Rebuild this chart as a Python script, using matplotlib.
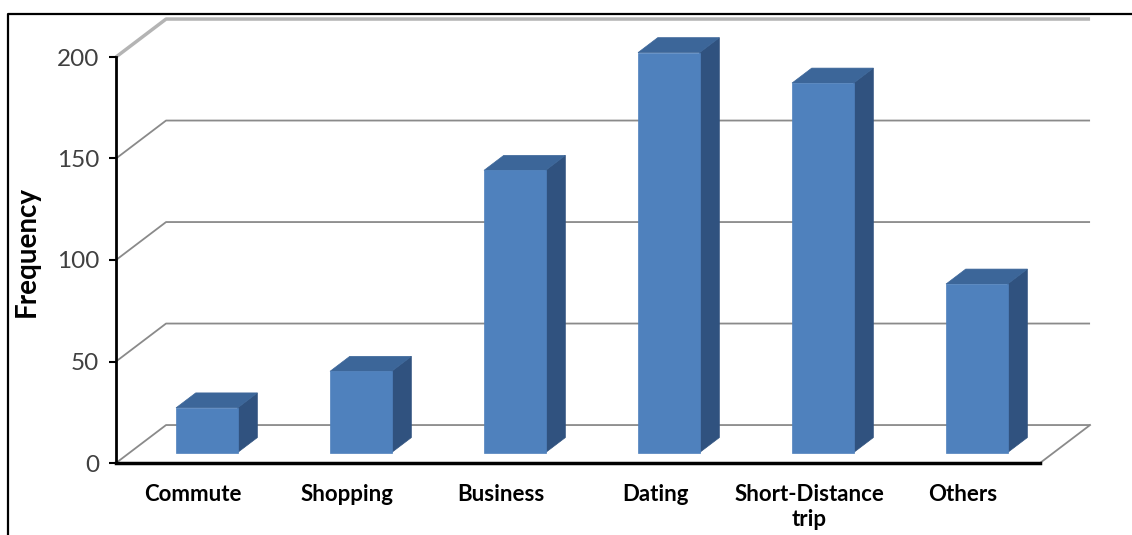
import numpy as np
import matplotlib
matplotlib.use('Agg')
import matplotlib.pyplot as plt
from matplotlib.patches import Polygon
from matplotlib.lines import Line2D

purposes = ['Commute', 'Shopping', 'Business', 'Dating', 'Short-Distance\ntrip', 'Others']
frequency = [22, 40, 139, 197, 182, 83]
yticks = [0, 50, 100, 150, 200]

# oblique depth of the "3D" box (x in category units, y in value units)
DX, DY = 0.325, 18.7
BAR_W = 0.4
BAR_F0, BAR_F1 = 0.276, 0.67   # front / back of the bars as a fraction of the depth

front_c = '#4f81bd'
top_c = '#3c6699'
side_c = '#30527f'
grid_c = '#8a8a8a'

plt.rcParams['font.family'] = ['Lato', 'DejaVu Sans']

W, H = 1132, 535
fig = plt.figure(figsize=(W/100, H/100), dpi=100)
ax = fig.add_axes([116/W, 1-463/H, 924/W, 406/H])
ax.set_xlim(-0.5, 5.5)
ax.set_ylim(0, 200)
ax.patch.set_visible(False)

x0, x1 = -0.5, 5.5

# walls: left diagonals + back gridlines
for v in yticks:
    lw, col = (2.5, '#b4b4b4') if v == yticks[-1] else (1.3, grid_c)
    ax.plot([x0, x0+DX, x1+DX], [v, v+DY, v+DY], color=col, lw=lw,
            clip_on=False, zorder=1, solid_capstyle='butt')
# right edge of the floor
ax.plot([x1, x1+DX], [0, DY], color=grid_c, lw=1.3, clip_on=False, zorder=1)

# bars: front face, top, right side
bdx = (BAR_F1-BAR_F0)*DX
bdy = (BAR_F1-BAR_F0)*DY
for i, v in enumerate(frequency):
    fx = i - BAR_W/2 + BAR_F0*DX
    fy = BAR_F0*DY
    front = [(fx, fy), (fx+BAR_W, fy), (fx+BAR_W, fy+v), (fx, fy+v)]
    top = [(fx, fy+v), (fx+BAR_W, fy+v), (fx+BAR_W+bdx, fy+v+bdy), (fx+bdx, fy+v+bdy)]
    side = [(fx+BAR_W, fy), (fx+BAR_W+bdx, fy+bdy), (fx+BAR_W+bdx, fy+v+bdy), (fx+BAR_W, fy+v)]
    for pts, c in [(side, side_c), (top, top_c), (front, front_c)]:
        ax.add_patch(Polygon(pts, closed=True, facecolor=c, edgecolor=c, lw=0.5,
                             clip_on=False, zorder=3))

for s in ['top', 'right']:
    ax.spines[s].set_visible(False)
ax.spines['left'].set_linewidth(2)
ax.spines['bottom'].set_linewidth(2.5)
ax.spines['left'].set_zorder(5)
ax.spines['bottom'].set_zorder(5)

ax.set_yticks(yticks)
ax.tick_params(axis='y', length=5, width=1.5, direction='out', colors='black',
               labelcolor='#404040', labelsize=17.5, pad=7)
ax.set_xticks(range(len(purposes)))
ax.set_xticklabels(purposes, fontweight='bold', fontsize=16, linespacing=1.25)
ax.tick_params(axis='x', length=0, pad=15)

fig.text(27/W, 1-251/H, 'Frequency', rotation=90, ha='center', va='center',
         fontsize=20, fontweight='bold')

# frame around the figure
fig.add_artist(Line2D([8/W, 8/W, 1], [0, 1-14/H, 1-14/H], color='black', lw=1.6,
                      transform=fig.transFigure, zorder=0))

fig.savefig('out.png', dpi=100)
